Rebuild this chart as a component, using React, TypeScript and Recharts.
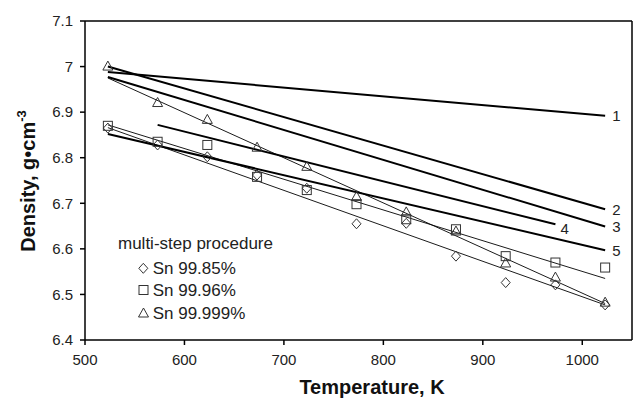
import React from "react";
import {
  ComposedChart,
  Line,
  Scatter,
  XAxis,
  YAxis,
  ReferenceLine,
  LabelList,
} from "recharts";

// measured temperatures (K)
const temps = [523, 573, 623, 673, 723, 773, 823, 873, 923, 973, 1023];

// multi-step procedure, density g/cm3
const sn9985 = [6.865, 6.828, 6.802, 6.762, 6.733, 6.655, 6.656, 6.584, 6.526, 6.521, 6.477];
const sn9996 = [6.87, 6.835, 6.828, 6.758, 6.729, 6.698, 6.665, 6.643, 6.584, 6.57, 6.559];
const sn99999 = [7.0, 6.92, 6.883, 6.822, 6.78, 6.714, 6.68, 6.638, 6.568, 6.537, 6.482];

// literature lines 1..5 (start / end)
const line1 = [[523, 6.988], [1023, 6.892]];
const line2 = [[523, 7.0], [1023, 6.687]];
const line3 = [[523, 6.977], [1023, 6.649]];
const line4 = [[573, 6.872], [973, 6.654]];
const line5 = [[523, 6.852], [1023, 6.597]];
const lineTags = ["1", "2", "3", "4", "5"];

// linear fits through own data
const fit9985 = [[523, 6.866], [1023, 6.477]];
const fit9996 = [[523, 6.872], [1023, 6.535]];
const fit99999 = [[523, 6.975], [1023, 6.48]];

const xTicks = [500, 600, 700, 800, 900, 1000];
const yTicks = [6.4, 6.5, 6.6, 6.7, 6.8, 6.9, 7.0, 7.1];

const FONT = "'Liberation Sans', Arial, Helvetica, sans-serif";
const MARK = "#333";

const toPoints = (ys: number[]) => temps.map((x, i) => ({ x, y: ys[i] }));
const toLine = (pts: number[][], tag?: string) =>
  pts.map(([x, y], i) => ({ x, y, tag: tag && i === pts.length - 1 ? tag : undefined }));

const Diamond = ({ cx, cy }: any) => (
  <path d={`M${cx},${cy - 5}L${cx + 4.5},${cy}L${cx},${cy + 5}L${cx - 4.5},${cy}Z`} fill="none" stroke={MARK} strokeWidth={1} />
);
const Square = ({ cx, cy }: any) => (
  <rect x={cx - 4.5} y={cy - 4.5} width={9} height={9} fill="none" stroke={MARK} strokeWidth={1} />
);
const Triangle = ({ cx, cy }: any) => (
  <path d={`M${cx},${cy - 5.5}L${cx + 5},${cy + 3.5}L${cx - 5},${cy + 3.5}Z`} fill="none" stroke={MARK} strokeWidth={1} />
);

const TagLabel = (props: any) => {
  const { x, y, value } = props;
  if (!value) return null;
  const dx = value === "4" ? 5 : 7;
  const dy = value === "4" ? 4 : 0;
  return (
    <text x={x + dx} y={y + dy} dy="0.36em" fontSize={15} fontFamily={FONT} fill="#222">
      {value}
    </text>
  );
};

export default function App() {
  const thick = [line1, line2, line3, line4, line5];
  const fits = [fit9985, fit9996, fit99999];

  return (
    <div style={{ position: "absolute", left: 0, top: 0, width: 634, height: 400, background: "#fff" }}>
      <ComposedChart width={634} height={400} margin={{ top: 21, right: 2, left: 0, bottom: 0 }}>
        <XAxis
          dataKey="x"
          type="number"
          domain={[500, 1050]}
          ticks={xTicks}
          height={60}
          tickSize={5}
          tickMargin={9}
          stroke="#000"
          strokeWidth={1.5}
          tick={{ fontSize: 15, fontFamily: FONT, fill: "#222" }}
          allowDataOverflow
        />
        <YAxis
          dataKey="y"
          type="number"
          domain={[6.4, 7.1]}
          ticks={yTicks}
          width={85}
          tickSize={5}
          tickMargin={7}
          stroke="#000"
          strokeWidth={1.5}
          tick={{ fontSize: 15, fontFamily: FONT, fill: "#222" }}
          tickFormatter={(v: number) => String(Number(v.toFixed(1)))}
          allowDataOverflow
        />
        <ReferenceLine y={7.1} stroke="#000" strokeWidth={1.5} />
        <ReferenceLine x={1050} stroke="#000" strokeWidth={1.5} />

        {fits.map((f, i) => (
          <Line
            key={"fit" + i}
            data={toLine(f)}
            dataKey="y"
            stroke="#000"
            strokeWidth={0.9}
            dot={false}
            isAnimationActive={false}
          />
        ))}
        {thick.map((l, i) => (
          <Line
            key={"lit" + i}
            data={toLine(l, lineTags[i])}
            dataKey="y"
            stroke="#000"
            strokeWidth={2}
            dot={false}
            isAnimationActive={false}
          >
            <LabelList dataKey="tag" content={TagLabel} />
          </Line>
        ))}

        <Scatter data={toPoints(sn9985)} dataKey="y" shape={Diamond} isAnimationActive={false} />
        <Scatter data={toPoints(sn9996)} dataKey="y" shape={Square} isAnimationActive={false} />
        <Scatter data={toPoints(sn99999)} dataKey="y" shape={Triangle} isAnimationActive={false} />
      </ComposedChart>

      <svg width={634} height={400} style={{ position: "absolute", left: 0, top: 0, pointerEvents: "none" }}>
        <g fontFamily={FONT} fill="#222">
          <text x={118} y={248.5} fontSize={17}>multi-step procedure</text>
          <Diamond cx={143.3} cy={268.3} />
          <text x={152.7} y={274} fontSize={17}>Sn 99.85%</text>
          <Square cx={143.5} cy={290} />
          <text x={152.7} y={295.8} fontSize={17}>Sn 99.96%</text>
          <Triangle cx={143.5} cy={313.5} />
          <text x={152.7} y={319} fontSize={17}>Sn 99.999%</text>
        </g>
        <text x={372} y={394} textAnchor="middle" fontSize={20} fontWeight="bold" fontFamily={FONT} fill="#111">
          Temperature, K
        </text>
        <text
          transform="translate(35,181) rotate(-90)"
          textAnchor="middle"
          fontSize={20}
          fontWeight="bold"
          fontFamily={FONT}
          fill="#111"
        >
          Density, g•cm<tspan dy={-9} fontSize={13}>-3</tspan>
        </text>
      </svg>
    </div>
  );
}
